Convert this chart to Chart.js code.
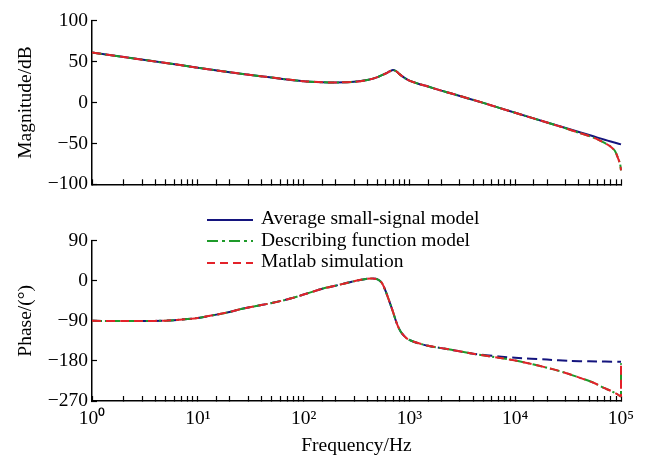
<!DOCTYPE html>
<html>
<head>
<meta charset="utf-8">
<script src="https://cdn.jsdelivr.net/npm/chart.js@4/dist/chart.umd.min.js"></script>
<style>
  body { margin: 0; background: #fff; }
  #wrap { position: relative; width: 653px; height: 463px; font-family: 'Liberation Serif', serif; }
  canvas { position: absolute; left: 0; }
  #magChart { top: 0; }
  #phaseChart { top: 220px; }
  #legend { position: absolute; left: 207px; top: 207px; z-index: 2; font-size: 19.5px; line-height: 21.5px; color: #000; }
  #legend div { white-space: nowrap; }
  #legend svg { vertical-align: middle; margin-right: 8px; }
</style>
</head>
<body>
<div id="wrap">
  <canvas id="magChart" width="653" height="205"></canvas>
  <canvas id="phaseChart" width="653" height="243"></canvas>
  <div id="legend"></div>
</div>
<script>
// magnitude (dB)
const magFreq = [1, 2, 5, 10, 20, 50, 100, 150, 200, 300, 400, 500, 600, 650, 700, 750, 800, 900, 1000, 1250, 1500, 2000, 2500, 5000, 10000, 20000, 30000, 40000, 50000, 60000, 70000, 80000, 90000, 100000];
const magAvg  = [61, 55.5, 48.3, 42.5, 37, 30.5, 26, 24.8, 24.5, 25.3, 27.5, 31, 35.5, 38, 39.8, 38.2, 35, 30, 26.8, 22.4, 19.5, 14.5, 11, -0.5, -12.6, -24.4, -31.2, -36, -39.8, -42.9, -45.5, -47.7, -49.5, -51.2];

const magFreqSim = [1, 2, 5, 10, 20, 50, 100, 150, 200, 300, 400, 500, 600, 650, 700, 750, 800, 900, 1000, 1250, 1500, 2000, 2500, 5000, 10000, 20000, 30000, 40000, 50000, 60000, 70000, 80000, 88000, 94000, 98000, 100000];
const magDesc = [61, 55.5, 48.3, 42.5, 37, 30.5, 26, 24.8, 24.5, 25.3, 27.5, 31, 35.5, 38, 39.8, 38.2, 35, 30, 26.8, 22.4, 19.5, 14.5, 11, -0.5, -12.6, -24.4, -31.5, -37, -41, -45, -49.5, -54, -59.5, -68.5, -75, -83];
const magSim  = [61, 55.5, 48.3, 42.5, 37, 30.5, 26, 24.8, 24.5, 25.3, 27.5, 31, 35.5, 38, 39.8, 38.2, 35, 30, 26.8, 22.4, 19.5, 14.5, 11, -0.5, -12.6, -24.4, -31.5, -37, -41, -45, -49.5, -54, -59.5, -68.5, -75, -83];

// phase (deg)
const phFreq = [1, 2, 3, 5, 8, 10, 15, 20, 25, 30, 50, 75, 100, 150, 200, 300, 400, 450, 500, 550, 600, 650, 700, 750, 800, 850, 950, 1100, 1500, 2500, 4000, 7000, 10000, 20000, 33000, 50000, 100000];
const phAvg  = [-90, -90.5, -90.5, -89.5, -86, -83.5, -76, -70, -64, -60, -50, -40, -31, -18, -11, -1, 4.5, 5, 3, -5, -25, -48, -70, -92, -108, -118, -130, -137, -146, -155, -164, -170, -173, -177, -180, -181, -182];

const phFreqSim = [1, 2, 3, 5, 8, 10, 15, 20, 25, 30, 50, 75, 100, 150, 200, 300, 400, 450, 500, 550, 600, 650, 700, 750, 800, 850, 950, 1100, 1500, 2500, 4000, 7000, 10000, 15000, 23000, 30000, 41000, 55000, 68000, 80000, 91000, 100000, 100000];
const phDesc = [-90, -90.5, -90.5, -89.5, -86, -83.5, -76, -70, -64, -60, -50, -40, -31, -18, -11, -1, 4.5, 5, 3, -5, -25, -48, -70, -92, -108, -118, -130, -137, -146, -155, -164, -173, -179, -188, -199, -207, -218, -229, -240, -247, -254, -259, -185];
const phSim  = [-90, -90.5, -90.5, -89.5, -86, -83.5, -76, -70, -64, -60, -50, -40, -31, -18, -11, -1, 4.5, 5, 3, -5, -25, -48, -70, -92, -108, -118, -130, -137, -146, -155, -164, -173, -179, -188, -199, -207, -218, -229, -240, -247, -254, -259, -185];

const seriesNames = ['Average small-signal model', 'Describing function model', 'Matlab simulation'];
const blue = '#14147e', green = '#1e9a2a', red = '#e3222a';

const pts = (xs, ys) => xs.map((x, i) => ({ x: x, y: ys[i] }))
const sup = { '0': '\u2070', '1': '\u00b9', '2': '\u00b2', '3': '\u00b3', '4': '\u2074', '5': '\u2075' }

Chart.defaults.font.family = "'Liberation Serif', serif";
Chart.defaults.font.size = 19.5;
Chart.defaults.color = '#000';

const tickGrid = {
    drawOnChartArea: false,
    drawTicks: true,
    tickLength: -5,
    tickColor: '#000',
    tickWidth: 1.2
};
const axisBorder = { display: true, color: '#000', width: 1.5 };

function xScale(showLabels, height, title) {
    return {
        type: 'logarithmic',
        min: 1,
        max: 100000,
        grid: tickGrid,
        border: axisBorder,
        ticks: {
            display: showLabels,
            autoSkip: false,
            maxRotation: 0,
            padding: 11,
            callback: (v) => {
                const e = Math.log10(v)
                if (Math.abs(e - Math.round(e)) < 1e-9) return '10' + sup[String(Math.round(e))]
                return ''
            }
        },
        title: title ? { display: true, text: title, padding: { top: 0, bottom: 5 } } : { display: false },
        afterFit: (s) => { s.height = height }
    }
}

function yScale(min, max, step, title) {
    return {
        min: min,
        max: max,
        grid: tickGrid,
        border: axisBorder,
        ticks: {
            stepSize: step,
            padding: 9,
            callback: (v) => String(v).replace('-', '\u2212')
        },
        title: { display: true, text: title, padding: { top: 14, bottom: 0 } },
        afterFit: (s) => { s.width = 92 }
    }
}

function line(data, color, dash, order) {
    return {
        data: data,
        showLine: true,
        borderColor: color,
        backgroundColor: color,
        borderWidth: 2,
        borderDash: dash,
        pointRadius: 0,
        tension: 0.25,
        clip: false,
        order: order
    }
}

const magChart = new Chart(document.getElementById('magChart'), {
    type: 'scatter',
    data: {
        datasets: [
            line(pts(magFreq, magAvg), blue, [], 2),
            line(pts(magFreqSim, magDesc), green, [10, 3, 2, 3], 1),
            line(pts(magFreqSim, magSim), red, [9, 5], 0)
        ]
    },
    options: {
        responsive: false,
        animation: false,
        devicePixelRatio: 1,
        layout: { padding: { top: 13, right: 32, left: 0, bottom: 0 } },
        plugins: { legend: { display: false }, tooltip: { enabled: false } },
        scales: {
            x: xScale(false, 11, null),
            y: yScale(-100, 100, 50, 'Magnitude/dB')
        }
    }
});

const phaseChart = new Chart(document.getElementById('phaseChart'), {
    type: 'scatter',
    data: {
        datasets: [
            line(pts(phFreq, phAvg), blue, [10, 5], 2),
            line(pts(phFreqSim, phDesc), green, [10, 3, 2, 3], 1),
            line(pts(phFreqSim, phSim), red, [9, 5], 0)
        ]
    },
    options: {
        responsive: false,
        animation: false,
        devicePixelRatio: 1,
        layout: { padding: { top: 18, right: 32, left: 0, bottom: 0 } },
        plugins: { legend: { display: false }, tooltip: { enabled: false } },
        scales: {
            x: xScale(true, 62, 'Frequency/Hz'),
            y: yScale(-270, 90, 90, 'Phase/(\u00b0)')
        }
    }
});

// legend between the two plots
const legendDash = ['', '11 4 3 4', '8 5'];
const legendColor = [blue, green, red];
const legend = document.getElementById('legend');
for (let i = 0; i < seriesNames.length; i++) {
    const row = document.createElement('div');
    row.innerHTML = '<svg width="46" height="10"><line x1="0" y1="5" x2="46" y2="5" stroke="' + legendColor[i] +
        '" stroke-width="2"' + (legendDash[i] ? ' stroke-dasharray="' + legendDash[i] + '"' : '') + '/></svg>' +
        '<span>' + seriesNames[i] + '</span>';
    legend.appendChild(row);
}
</script>
</body>
</html>
